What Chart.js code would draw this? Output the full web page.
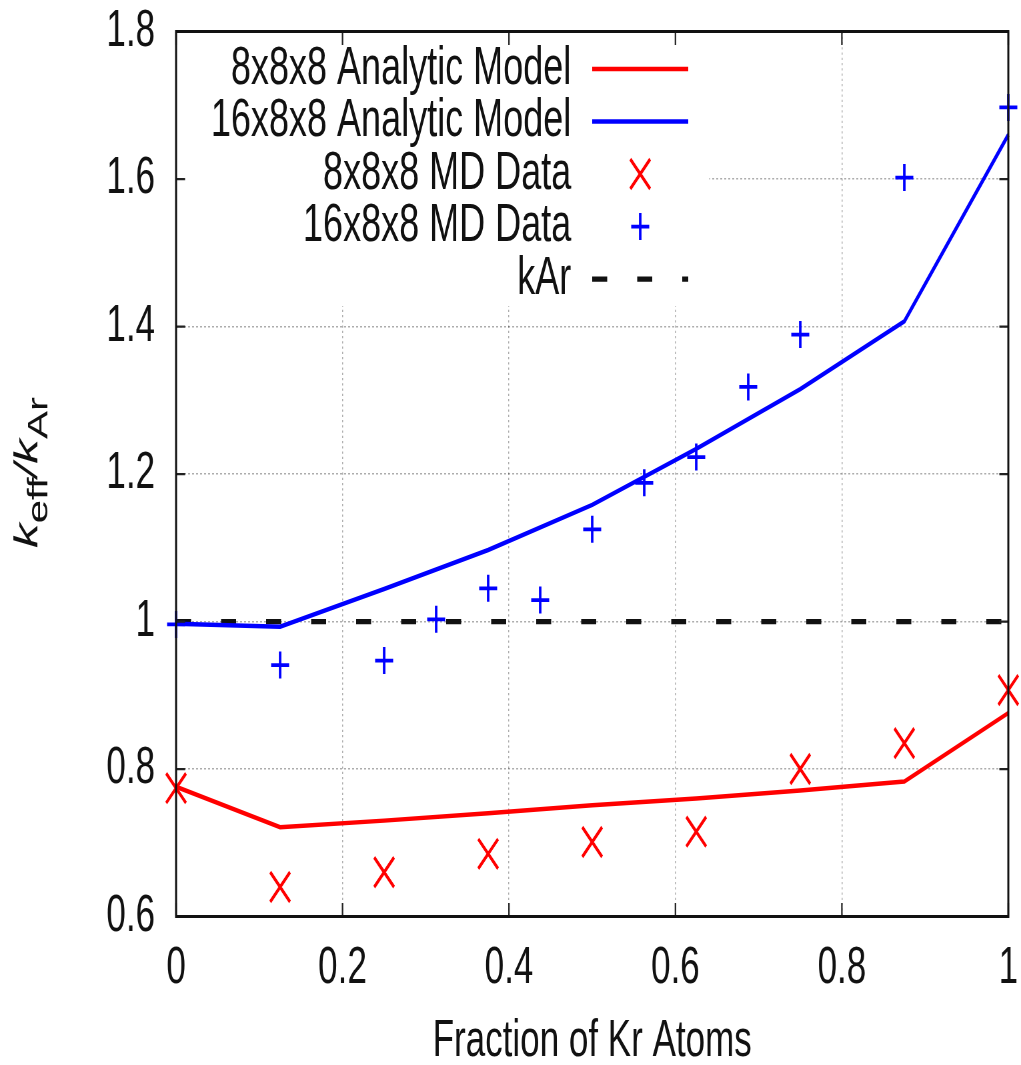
<!DOCTYPE html>
<html>
<head>
<meta charset="utf-8">
<script src="https://cdn.jsdelivr.net/npm/chart.js@4.4.1/dist/chart.umd.min.js"></script>
<style>
  html, body { margin: 0; padding: 0; background: #fff; width: 1021px; height: 1065px; overflow: hidden; }
  /* the reference is a gnuplot figure stretched vertically, so draw at 2/3 height and stretch */
  #wrap { width: 1021px; height: 710px; position: relative; transform: scaleY(1.5); transform-origin: 0 0; }
</style>
</head>
<body>
<div id="wrap"><canvas id="kChart"></canvas></div>
<script>
// values
const fracModel = [0, 0.125, 0.25, 0.375, 0.5, 0.625, 0.75, 0.875, 1];
const model8 = [0.776, 0.721, 0.730, 0.740, 0.751, 0.760, 0.771, 0.783, 0.876];
const model16 = [0.997, 0.993, 1.044, 1.097, 1.158, 1.234, 1.315, 1.407, 1.660];

const frac8 = [0, 0.125, 0.25, 0.375, 0.5, 0.625, 0.75, 0.875, 1];
const md8 = [0.774, 0.640, 0.660, 0.685, 0.701, 0.715, 0.800, 0.835, 0.907];

const frac16 = [0, 0.125, 0.25, 0.3125, 0.375, 0.4375, 0.5, 0.5625, 0.625, 0.6875, 0.75, 0.875, 1];
const md16 = [0.996, 0.941, 0.947, 1.003, 1.045, 1.029, 1.125, 1.188, 1.223, 1.318, 1.389, 1.602, 1.697];

const fracAr = [0, 1];
const kAr = [1, 1];

const xTicks = [0, 0.2, 0.4, 0.6, 0.8, 1];
const yTicks = [0.6, 0.8, 1, 1.2, 1.4, 1.6, 1.8];

const FONT = "'Liberation Sans', Arial, sans-serif";
Chart.defaults.font.family = FONT;
Chart.defaults.color = '#111';

function pts(xs, ys) {
    return xs.map((x, i) => ({ x: x, y: ys[i] }));
}

// y title with subscripts: k_eff / k_Ar
const yTitlePlugin = {
    id: 'yTitle',
    afterDraw(chart) {
        const ctx = chart.ctx;
        const big = 'italic 33px ' + FONT;
        const small = '28px ' + FONT;
        const parts = [['k', big, 0], ['eff', small, 10], ['/', big, 0], ['k', big, 0], ['Ar', small, 10]];
        ctx.save();
        let total = 0;
        parts.forEach(p => { ctx.font = p[1]; total += ctx.measureText(p[0]).width; });
        ctx.translate(37, (chart.chartArea.top + chart.chartArea.bottom) / 2 - 1);
        ctx.rotate(-Math.PI / 2);
        ctx.fillStyle = '#111';
        ctx.textBaseline = 'alphabetic';
        let x = -total / 2;
        parts.forEach(p => {
            ctx.font = p[1];
            ctx.fillText(p[0], x, p[2]);
            x += ctx.measureText(p[0]).width;
        });
        ctx.restore();
    }
};

// legend box, frame and gnuplot-style inward ticks
const framePlugin = {
    id: 'frame',
    afterDraw(chart) {
        const ctx = chart.ctx;
        const a = chart.chartArea;
        const xs = chart.scales.x, ys = chart.scales.y;

        // opaque legend box hides the grid behind it
        ctx.save();
        ctx.fillStyle = '#fff';
        ctx.fillRect(a.left + 1, a.top + 1, 708 - a.left, 203 - a.top);

        ctx.strokeStyle = '#222';
        ctx.lineWidth = 1.5;
        ctx.beginPath();
        xTicks.forEach(v => {
            const px = xs.getPixelForValue(v);
            ctx.moveTo(px, a.bottom); ctx.lineTo(px, a.bottom - 9);
            ctx.moveTo(px, a.top); ctx.lineTo(px, a.top + 9);
        });
        yTicks.forEach(v => {
            const py = ys.getPixelForValue(v);
            ctx.moveTo(a.left, py); ctx.lineTo(a.left + 9, py);
            ctx.moveTo(a.right, py); ctx.lineTo(a.right - 9, py);
        });
        ctx.stroke();

        ctx.strokeStyle = '#111';
        ctx.lineWidth = 2;
        ctx.strokeRect(a.left, a.top, a.right - a.left, a.bottom - a.top);

        // legend entries
        ctx.font = '36px ' + FONT;
        ctx.fillStyle = '#111';
        ctx.textAlign = 'right';
        ctx.textBaseline = 'middle';
        chart.data.datasets.forEach((ds, i) => {
            const y = a.top + 25 + i * 35;
            ctx.fillText(ds.label, 571, y);
            ctx.strokeStyle = ds.borderColor;
            if (ds.showLine) {
                ctx.lineWidth = ds.borderWidth;
                ctx.setLineDash(ds.borderDash || []);
                ctx.beginPath();
                ctx.moveTo(592, y); ctx.lineTo(688, y);
                ctx.stroke();
                ctx.setLineDash([]);
            } else {
                ctx.lineWidth = ds.pointBorderWidth;
                Chart.helpers.drawPoint(ctx, {
                    pointStyle: ds.pointStyle, radius: ds.pointRadius,
                    rotation: 0, borderWidth: ds.pointBorderWidth
                }, 640, y);
            }
        });
        ctx.restore();
    }
};

new Chart(document.getElementById('kChart').getContext('2d'), {
    type: 'scatter',
    data: {
        datasets: [{
            label: '8x8x8 Analytic Model',
            data: pts(fracModel, model8),
            showLine: true,
            borderColor: '#ff0000',
            borderWidth: 3,
            pointRadius: 0,
            clip: false
        }, {
            label: '16x8x8 Analytic Model',
            data: pts(fracModel, model16),
            showLine: true,
            borderColor: '#0000ff',
            borderWidth: 3,
            pointRadius: 0,
            clip: false
        }, {
            label: '8x8x8 MD Data',
            data: pts(frac8, md8),
            showLine: false,
            pointStyle: 'crossRot',
            pointRadius: 14,
            pointBorderWidth: 2.5,
            borderColor: '#ff0000',
            backgroundColor: '#ff0000',
            clip: false
        }, {
            label: '16x8x8 MD Data',
            data: pts(frac16, md16),
            showLine: false,
            pointStyle: 'cross',
            pointRadius: 9,
            pointBorderWidth: 2.5,
            borderColor: '#0000ff',
            backgroundColor: '#0000ff',
            clip: false
        }, {
            label: 'kAr',
            data: pts(fracAr, kAr),
            showLine: true,
            borderColor: '#111',
            borderWidth: 3.5,
            borderDash: [15, 30],
            pointRadius: 0,
            clip: false
        }]
    },
    options: {
        responsive: true,
        maintainAspectRatio: false,
        devicePixelRatio: 1.5,
        animation: false,
        layout: { autoPadding: false, padding: { left: 0, right: 13, top: 21, bottom: 0 } },
        plugins: {
            legend: { display: false },
            tooltip: { enabled: false }
        },
        scales: {
            x: {
                type: 'linear',
                min: 0,
                max: 1,
                afterBuildTicks: s => { s.ticks = xTicks.map(v => ({ value: v })); },
                afterFit: s => { s.height = 99; s.paddingLeft = 0; s.paddingRight = 0; },
                ticks: { font: { size: 35 }, padding: 14, callback: v => String(v) },
                grid: { color: 'rgba(0,0,0,0.32)', lineWidth: 1, drawTicks: false },
                border: { display: false, dash: [1.5, 2] },
                title: {
                    display: true,
                    text: 'Fraction of Kr Atoms',
                    font: { size: 35, lineHeight: 1 },
                    padding: { top: 0, bottom: -2 }
                }
            },
            y: {
                type: 'linear',
                min: 0.6,
                max: 1.8,
                afterBuildTicks: s => { s.ticks = yTicks.map(v => ({ value: v })); },
                afterFit: s => { s.width = 176; s.paddingTop = 0; s.paddingBottom = 0; },
                ticks: { font: { size: 35, lineHeight: 1 }, padding: 21, callback: v => String(v) },
                grid: { color: 'rgba(0,0,0,0.32)', lineWidth: 1, drawTicks: false },
                border: { display: false, dash: [2, 2] }
            }
        }
    },
    plugins: [yTitlePlugin, framePlugin]
});
</script>
</body>
</html>
